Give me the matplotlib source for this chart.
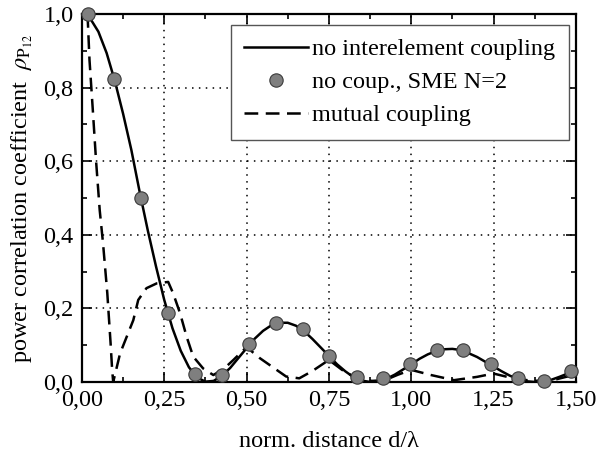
import matplotlib
matplotlib.use("Agg")
import matplotlib.pyplot as plt

plt.rcParams['font.family'] = ['Liberation Serif', 'DejaVu Serif']
plt.rcParams['mathtext.fontset'] = 'stix'

# no interelement coupling (solid line)
d_line = [0.0, 0.025, 0.05, 0.075, 0.1, 0.125, 0.15, 0.175, 0.2, 0.225,
          0.25, 0.275, 0.3, 0.325, 0.35, 0.375, 0.4, 0.425, 0.45, 0.475,
          0.5, 0.525, 0.55, 0.575, 0.6, 0.625, 0.65, 0.675, 0.7, 0.725,
          0.75, 0.775, 0.8, 0.825, 0.85, 0.875, 0.9, 0.925, 0.95, 0.975,
          1.0, 1.025, 1.05, 1.075, 1.1, 1.125, 1.15, 1.175, 1.2, 1.225,
          1.25, 1.275, 1.3, 1.325, 1.35, 1.375, 1.4, 1.425, 1.45, 1.475, 1.5]
rho_line = [1.0, 0.988, 0.952, 0.894, 0.818, 0.729, 0.631, 0.518, 0.412, 0.314,
            0.223, 0.146, 0.085, 0.040, 0.012, 0.001, 0.003, 0.017, 0.038, 0.065,
            0.092, 0.118, 0.139, 0.154, 0.161, 0.161, 0.153, 0.138, 0.117, 0.094,
            0.071, 0.048, 0.029, 0.013, 0.004, 0.000, 0.002, 0.009, 0.020, 0.034,
            0.048, 0.063, 0.075, 0.084, 0.089, 0.090, 0.087, 0.078, 0.068, 0.055,
            0.042, 0.029, 0.017, 0.008, 0.002, 0.000, 0.001, 0.006, 0.014, 0.023, 0.033]

# no coup., SME N=2 (markers)
d_sme = [0.017, 0.098, 0.179, 0.260, 0.343, 0.424, 0.507, 0.588, 0.670, 0.751,
         0.834, 0.915, 0.996, 1.077, 1.158, 1.241, 1.323, 1.404, 1.485]
rho_sme = [1.0, 0.823, 0.499, 0.187, 0.021, 0.019, 0.102, 0.161, 0.144, 0.071,
           0.013, 0.010, 0.048, 0.087, 0.086, 0.048, 0.011, 0.003, 0.031]

# mutual coupling (dashed)
d_mut = [0.017, 0.023, 0.033, 0.043, 0.054, 0.064, 0.077, 0.087, 0.092, 0.095,
         0.116, 0.156, 0.171, 0.196, 0.227, 0.262, 0.277, 0.298, 0.318, 0.338,
         0.368, 0.399, 0.43, 0.46, 0.50, 0.54, 0.58, 0.62, 0.66, 0.70,
         0.75, 0.79, 0.83, 0.88, 0.92, 0.96, 1.0, 1.06, 1.13, 1.20,
         1.25, 1.31, 1.37, 1.43, 1.47, 1.5]
rho_mut = [1.0, 0.875, 0.74, 0.60, 0.467, 0.378, 0.242, 0.106, 0.03, 0.0,
           0.078, 0.168, 0.223, 0.255, 0.268, 0.272, 0.241, 0.187, 0.123, 0.069,
           0.037, 0.019, 0.035, 0.06, 0.095, 0.065, 0.04, 0.015, 0.01, 0.03,
           0.06, 0.033, 0.012, 0.003, 0.005, 0.02, 0.033, 0.019, 0.005, 0.014,
           0.023, 0.01, 0.003, 0.005, 0.014, 0.02]

xticks = [0.0, 0.25, 0.5, 0.75, 1.0, 1.25, 1.5]
xticklabels = ['0,00', '0,25', '0,50', '0,75', '1,00', '1,25', '1,50']
yticks = [0.0, 0.2, 0.4, 0.6, 0.8, 1.0]
yticklabels = ['0,0', '0,2', '0,4', '0,6', '0,8', '1,0']

fig = plt.figure(figsize=(5.98, 4.55), dpi=100)
ax = fig.add_axes([0.137, 0.1604, 0.826, 0.8088])

ax.plot(d_line, rho_line, color='black', lw=1.8, label='no interelement coupling', zorder=3)
ax.plot(d_sme, rho_sme, ls='none', marker='o', ms=9.6, mfc='#7f7f7f', mec='#3a3a3a',
        mew=0.8, label='no coup., SME N=2', zorder=5, clip_on=False)
ax.plot(d_mut, rho_mut, color='black', lw=1.8, ls=(0, (5.5, 3)), label='mutual coupling', zorder=4)

ax.set_xlim(0, 1.5)
ax.set_ylim(0, 1.0)
ax.set_xticks(xticks)
ax.set_xticklabels(xticklabels)
ax.set_yticks(yticks)
ax.set_yticklabels(yticklabels)
ax.set_xticks([0.125, 0.375, 0.625, 0.875, 1.125, 1.375], minor=True)
ax.set_yticks([0.1, 0.3, 0.5, 0.7, 0.9], minor=True)
ax.tick_params(which='both', direction='in', top=True, right=True, width=1.2, labelsize=17.5)
ax.tick_params(which='major', length=7.5)
ax.tick_params(which='minor', length=3.5)
ax.tick_params(axis='x', pad=6)
ax.tick_params(axis='y', pad=6)

ax.grid(True, which='major', color='black', ls=(0, (1, 3.5)), lw=1.1)
ax.set_axisbelow(True)
for s in ax.spines.values():
    s.set_linewidth(1.6)

ax.set_xlabel('norm. distance d/\u03bb', fontsize=17.5, labelpad=14)
ax.set_ylabel('power correlation coefficient  $\\rho_{\\mathrm{P}_{12}}$', fontsize=17.5, labelpad=6)

leg = ax.legend(loc='upper right', bbox_to_anchor=(0.986, 0.970), borderaxespad=0,
                fontsize=17.5, numpoints=1, handlelength=2.6, handletextpad=0.2,
                labelspacing=0.45, borderpad=0.55, fancybox=False, framealpha=1)
leg.get_frame().set_edgecolor('#555555')
leg.get_frame().set_linewidth(1.0)

fig.savefig('out.png', dpi=100)
